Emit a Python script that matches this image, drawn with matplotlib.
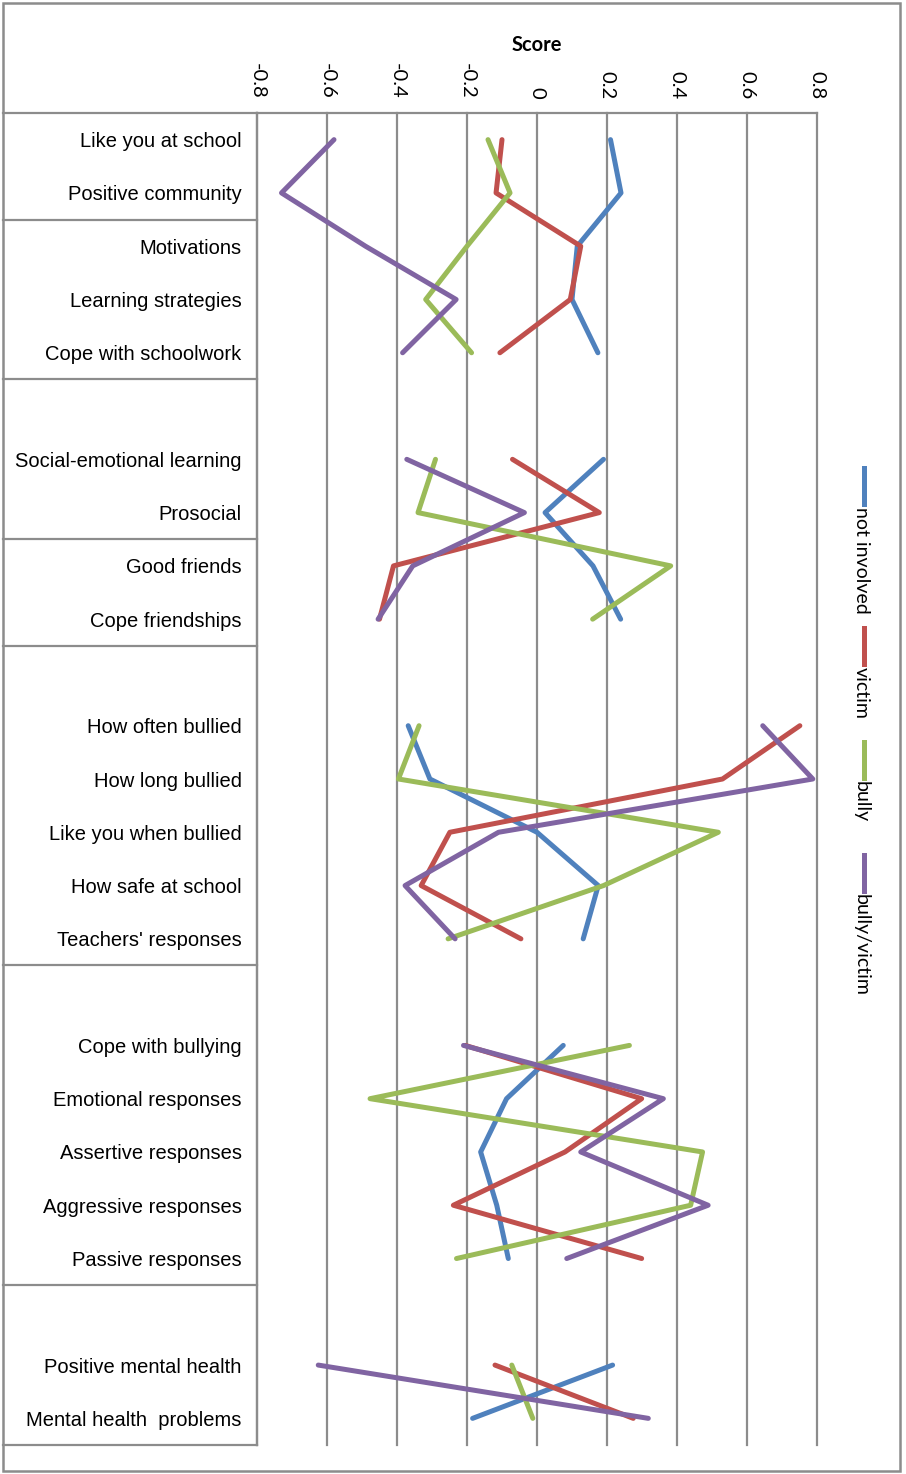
import matplotlib
matplotlib.use("Agg")
import matplotlib.pyplot as plt
import numpy as np
from matplotlib.transforms import blended_transform_factory
from matplotlib.lines import Line2D
from matplotlib.patches import Rectangle

plt.rcParams['axes.unicode_minus'] = False

nan = np.nan

# row labels (blank rows separate the groups)
categories = ["Like you at school", "Positive community",
              "Motivations", "Learning strategies", "Cope with schoolwork",
              "", "Social-emotional learning", "Prosocial",
              "Good friends", "Cope friendships",
              "", "How often bullied", "How long bullied", "Like you when bullied",
              "How safe at school", "Teachers' responses",
              "", "Cope with bullying", "Emotional responses", "Assertive responses",
              "Aggressive responses", "Passive responses",
              "", "Positive mental health", "Mental health  problems"]

# group boundaries (row index where a new box starts)
group_starts = [0, 2, 5, 8, 10, 16, 22, 25]

not_involved = [0.21, 0.24, 0.115, 0.10, 0.174, nan, 0.19, 0.023, 0.16, 0.239,
                nan, -0.368, -0.306, 0.0, 0.175, 0.132, nan, 0.075, -0.087,
                -0.161, -0.115, -0.082, nan, 0.216, -0.184]
victim = [-0.10, -0.117, 0.125, 0.095, -0.106, nan, -0.07, 0.178, -0.41, -0.45,
          nan, 0.751, 0.53, -0.249, -0.331, -0.046, nan, -0.205, 0.299, 0.08,
          -0.239, 0.299, nan, -0.12, 0.275]
bully = [-0.14, -0.077, -0.20, -0.318, -0.187, nan, -0.29, -0.34, 0.382, 0.159,
         nan, -0.337, -0.396, 0.518, 0.19, -0.254, nan, 0.264, -0.477, 0.473,
         0.439, -0.23, nan, -0.072, -0.012]
bully_victim = [-0.58, -0.73, -0.49, -0.231, -0.384, nan, -0.372, -0.036, -0.355,
                -0.454, nan, 0.645, 0.788, -0.11, -0.377, -0.234, nan, -0.21,
                0.361, 0.125, 0.489, 0.085, nan, -0.625, 0.318]

series_names = ["not involved", "victim", "bully", "bully/victim"]
series_colors = ["#4F81BD", "#C0504D", "#9BBB59", "#8064A2"]

xticks = [-0.8, -0.6, -0.4, -0.2, 0, 0.2, 0.4, 0.6, 0.8]
xtick_labels = ["-0.8", "-0.6", "-0.4", "-0.2", "0", "0.2", "0.4", "0.6", "0.8"]

W, H = 906, 1474
grid_col = "#8c8c8c"

fig = plt.figure(figsize=(W / 100, H / 100), dpi=100)
ax = fig.add_axes([257 / W, 1 - 1445 / H, (817 - 257) / W, (1445 - 113) / H])

rows = np.arange(len(categories))
for vals, col in zip([not_involved, victim, bully, bully_victim], series_colors):
    ax.plot(vals, rows, color=col, lw=3.6, solid_joinstyle='round',
            solid_capstyle='round', zorder=3)

ax.set_xlim(-0.8, 0.8)
ax.set_ylim(len(categories) - 0.5, -0.5)

for t in xticks:
    ax.axvline(t, color=grid_col, lw=1.6, clip_on=False, zorder=1)

for s in ['right', 'bottom']:
    ax.spines[s].set_visible(False)
for s in ['left', 'top']:
    ax.spines[s].set_color(grid_col)
    ax.spines[s].set_linewidth(1.6)

ax.xaxis.tick_top()
ax.set_xticks(xticks)
ax.set_xticklabels(xtick_labels, rotation=-90, family='Lato', fontsize=14.5)
ax.tick_params(axis='x', length=0, pad=10)

ax.set_yticks(rows)
ax.set_yticklabels(categories, family='Liberation Sans', fontsize=14.5)
ax.tick_params(axis='y', length=0, pad=11)

# category boxes on the left
tr = blended_transform_factory(fig.transFigure, ax.transData)
for g in group_starts:
    ax.add_line(Line2D([3 / W, 257 / W], [g - 0.5, g - 0.5], transform=tr,
                       color=grid_col, lw=1.6, clip_on=False))

# outer frame
fig.patches.append(Rectangle((3 / W, 1 - 1471 / H), 897 / W, 1468 / H,
                             transform=fig.transFigure, fill=False,
                             edgecolor=grid_col, lw=1.8))

fig.text(537 / W, 1 - 45 / H, "Score", family='Lato', fontweight='bold',
         fontsize=14.5, ha='center', va='center')

# legend, rotated
leg_tops = [468, 628, 742, 855]
for name, col, top in zip(series_names, series_colors, leg_tops):
    fig.add_artist(Line2D([864 / W, 864 / W], [1 - top / H, 1 - (top + 36) / H],
                          transform=fig.transFigure, color=col, lw=3.6))
    fig.text(861 / W, 1 - (top + 39) / H, name, family='Lato', fontsize=14,
             rotation=-90, ha='center', va='top')

fig.savefig("out.png", dpi=100)
